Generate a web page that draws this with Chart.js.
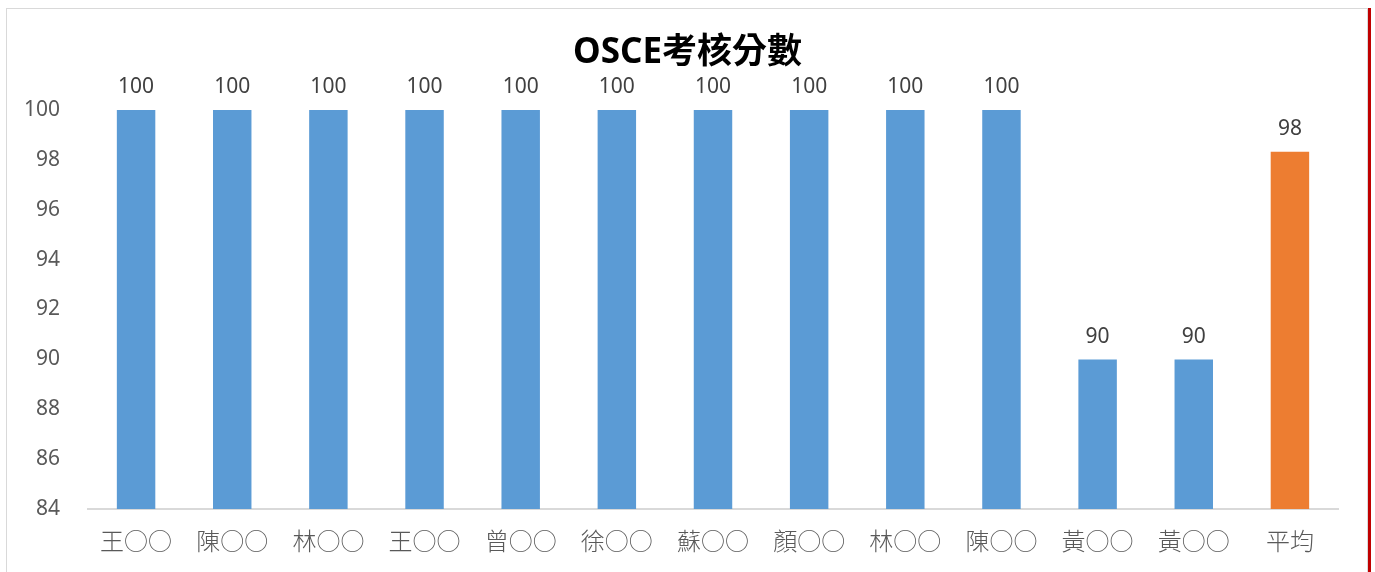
<!DOCTYPE html>
<html>
<head>
<meta charset="utf-8">
<script src="https://cdn.jsdelivr.net/npm/chart.js@4"></script>
<style>
  html, body { margin: 0; padding: 0; background: #fff; }
  #wrap { position: relative; width: 1375px; height: 572px; overflow: hidden; }
  #frame { position: absolute; left: 6px; top: 8px; width: 1360px; height: 600px; border: 1px solid #d9d9d9; }
  #redline { position: absolute; left: 1368px; top: 8px; width: 3px; height: 600px; background: #c00000; }
  #scoreChart { position: absolute; left: 0; top: 0; }
</style>
</head>
<body>
<div id="wrap">
  <div id="frame"></div>
  <div id="redline"></div>
  <canvas id="scoreChart" width="1375" height="572"></canvas>
</div>
<script>
var names = ['王○○', '陳○○', '林○○', '王○○', '曾○○', '徐○○', '蘇○○', '顏○○', '林○○', '陳○○', '黃○○', '黃○○', '平均'];
var scores = [100, 100, 100, 100, 100, 100, 100, 100, 100, 100, 90, 90, 98.33];
var barColors = ['#5b9bd5', '#5b9bd5', '#5b9bd5', '#5b9bd5', '#5b9bd5', '#5b9bd5', '#5b9bd5',
                 '#5b9bd5', '#5b9bd5', '#5b9bd5', '#5b9bd5', '#5b9bd5', '#ed7d31'];

var fontFamily = '"Noto Sans", "Noto Sans CJK TC", sans-serif';

// draws the value above each bar
var valueLabels = {
    id: 'valueLabels',
    afterDatasetsDraw: function (chart) {
        var ctx = chart.ctx;
        var meta = chart.getDatasetMeta(0);
        ctx.save();
        ctx.font = '21px ' + fontFamily;
        ctx.fillStyle = '#404040';
        ctx.textAlign = 'center';
        ctx.textBaseline = 'bottom';
        meta.data.forEach(function (bar, i) {
            ctx.fillText(Math.round(scores[i]), bar.x, bar.y - 12);
        });
        ctx.restore();
    }
};

var ctx = document.getElementById('scoreChart').getContext('2d');
var scoreChart = new Chart(ctx, {
    type: 'bar',
    data: {
        labels: names,
        datasets: [{
            label: 'OSCE考核分數',
            data: scores,
            backgroundColor: barColors,
            categoryPercentage: 0.8,
            barPercentage: 0.5
        }]
    },
    options: {
        responsive: false,
        animation: false,
        layout: { padding: 0 },
        plugins: {
            legend: { display: false },
            tooltip: { enabled: false },
            title: {
                display: true,
                text: 'OSCE考核分數',
                color: '#000',
                font: { family: fontFamily, size: 35, weight: 'bold' },
                padding: { top: 32, bottom: 36 }
            }
        },
        scales: {
            x: {
                grid: { display: false },
                border: { display: true, color: '#d9d9d9', width: 2 },
                ticks: {
                    color: '#595959',
                    font: { family: fontFamily, size: 24, weight: '300' },
                    padding: 12,
                    maxRotation: 0,
                    autoSkip: false
                },
                afterFit: function (scale) { scale.height = 63; }
            },
            y: {
                min: 84,
                max: 100,
                grid: { display: false, drawTicks: false },
                border: { display: false },
                ticks: {
                    stepSize: 2,
                    color: '#595959',
                    font: { family: fontFamily, size: 21 },
                    padding: 28
                },
                afterFit: function (scale) { scale.width = 88; }
            },
            // empty right-hand axis, only keeps the right margin
            yRight: {
                position: 'right',
                min: 84,
                max: 100,
                grid: { display: false, drawTicks: false },
                border: { display: false },
                ticks: { display: false },
                afterFit: function (scale) { scale.width = 37; }
            }
        }
    },
    plugins: [valueLabels]
});
</script>
</body>
</html>
